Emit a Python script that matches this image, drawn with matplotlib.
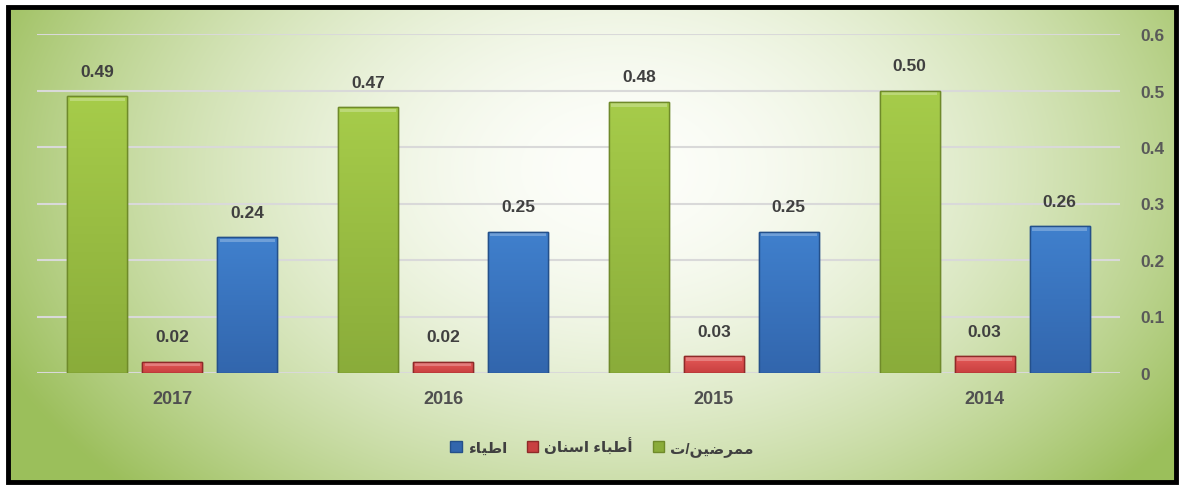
import numpy as np
import matplotlib
matplotlib.use("Agg")
import matplotlib.pyplot as plt
from matplotlib.patches import Rectangle
from matplotlib.colors import to_rgb

# ---- data (display order, left to right) ----
years = ["2017", "2016", "2015", "2014"]
nurses = [0.49, 0.47, 0.48, 0.50]      # ممرضين/ت
dentists = [0.02, 0.02, 0.03, 0.03]    # أطباء اسنان
doctors = [0.24, 0.25, 0.25, 0.26]     # اطياء
yticks = [0, 0.1, 0.2, 0.3, 0.4, 0.5, 0.6]
ytick_labels = ["0", "0.1", "0.2", "0.3", "0.4", "0.5", "0.6"]

# Arabic labels pre-shaped (presentation forms, visual order) since matplotlib has no RTL shaping
lbl_nurses = "\uFE95/\uFEE6\uFEF4\uFEBF\uFEAE\uFEE4\uFEE3"          # ممرضين/ت
lbl_dentists = "\uFEE5\uFE8E\uFEE8\uFEB3\uFE8D \uFE80\uFE8E\uFE92\uFEC3\uFE83"  # أطباء اسنان
lbl_doctors = "\uFE80\uFE8E\uFEF4\uFEC3\uFE8D"                     # اطياء

plt.rcParams['font.family'] = ['Liberation Sans', 'DejaVu Sans']

W, H = 1182, 489
fig = plt.figure(figsize=(W / 100, H / 100), dpi=100)

# ---- background radial gradient ----
bg = fig.add_axes([0, 0, 1, 1], zorder=-10)
bg.set_axis_off()
yy, xx = np.mgrid[0:H, 0:W]
cx, cy = 620, 170
t = np.sqrt(((xx - cx) / 680.0) ** 2 + ((yy - cy) / 460.0) ** 2)
t = np.clip(t, 0, 1) ** 1.8
light = np.array([0xfd, 0xfe, 0xfa]) / 255
green = np.array([0x9c, 0xbf, 0x5c]) / 255
img = light[None, None, :] * (1 - t[..., None]) + green[None, None, :] * t[..., None]
bg.imshow(img, extent=[0, 1, 0, 1], aspect='auto', origin='upper')
bg.set_xlim(0, 1)
bg.set_ylim(0, 1)
for r in [(0, 0, 1, 7 / H), (0, 1 - 7 / H, 1, 7 / H), (0, 0, 7 / W, 1), (1 - 5 / W, 0, 5 / W, 1)]:
    bg.add_patch(Rectangle((r[0], r[1]), r[2], r[3], transform=bg.transAxes,
                           facecolor='white', edgecolor='none', zorder=2))
bg.add_patch(Rectangle((8 / W, 6 / H), 1 - 14 / W, 1 - 14 / H, transform=bg.transAxes,
                       facecolor='none', edgecolor='black', linewidth=3.5, zorder=3))

# ---- main axes ----
ax = fig.add_axes([37 / W, 1 - 374 / H, (1120 - 37) / W, (374 - 35) / H])
ax.patch.set_alpha(0)
x = np.arange(len(years))
step = 0.277
width = 0.222
series = [
    (nurses, -step, ('#a6cc4a', '#8aac3a'), '#6f8a2a', lbl_nurses),
    (dentists, 0.0, ('#e65a58', '#c84040'), '#8e2a29', lbl_dentists),
    (doctors, step, ('#4080cd', '#3266ad'), '#24508a', lbl_doctors),
]
handles = {}
ax.set_xlim(-0.5, len(years) - 0.5)
ax.set_ylim(0, 0.6)
for vals, off, (ctop, cbot), ec, lab in series:
    bars = ax.bar(x + off, vals, width, color=cbot, edgecolor=ec, linewidth=1.0, zorder=3, label=lab)
    handles[lab] = bars
    ct, cb = np.array(to_rgb(ctop)), np.array(to_rgb(cbot))
    for b in bars:
        x0, w, h = b.get_x(), b.get_width(), b.get_height()
        n = 64
        s = np.linspace(0, 1, n)[:, None]
        grad = ct[None, None, :] * (1 - s[..., None]) + cb[None, None, :] * s[..., None]
        grad = np.repeat(grad, 2, axis=1)
        im = ax.imshow(grad, extent=[x0, x0 + w, 0, h], aspect='auto', origin='upper', zorder=3.5)
        im.set_clip_path(b)
        hl = 0.006
        ax.add_patch(Rectangle((x0 + w * 0.04, h - hl * 1.4), w * 0.92, hl, facecolor='white',
                               alpha=0.25, edgecolor='none', zorder=3.7))
        ax.add_patch(Rectangle((x0, 0), w, h, facecolor='none', edgecolor=ec, linewidth=1.0, zorder=3.8))
    for xi, v in zip(x + off, vals):
        ax.annotate(f"{v:.2f}", (xi, v), xytext=(0, 18), textcoords='offset points',
                    ha='center', va='center', fontsize=12.5, fontweight='bold', color='#404040')

ax.set_xlim(-0.5, len(years) - 0.5)
ax.set_ylim(0, 0.6)
ax.set_yticks(yticks)
ax.set_yticklabels(ytick_labels)
ax.yaxis.tick_right()
ax.tick_params(axis='y', length=0, pad=15, labelsize=12.5, labelcolor='#595959')
for lbl in ax.get_yticklabels():
    lbl.set_fontweight('bold')
ax.set_xticks(x)
ax.set_xticklabels(years)
ax.tick_params(axis='x', length=0, pad=12, labelsize=13, labelcolor='#505050')
for lbl in ax.get_xticklabels():
    lbl.set_fontweight('bold')
ax.grid(axis='y', color='#d9d9d9', linewidth=1.5, zorder=0)
ax.set_axisbelow(True)
for s in ax.spines.values():
    s.set_visible(False)

order = [lbl_doctors, lbl_dentists, lbl_nurses]
leg = ax.legend([handles[k] for k in order], order, loc='center', bbox_to_anchor=(602 / W, 1 - 448 / H),
                bbox_transform=fig.transFigure, ncol=3, frameon=False,
                handlelength=0.75, handleheight=0.75, handletextpad=0.4, columnspacing=1.3,
                prop={'weight': 'bold', 'size': 11})
for txt in leg.get_texts():
    txt.set_color('#404040')

fig.savefig('out.png', dpi=100)
